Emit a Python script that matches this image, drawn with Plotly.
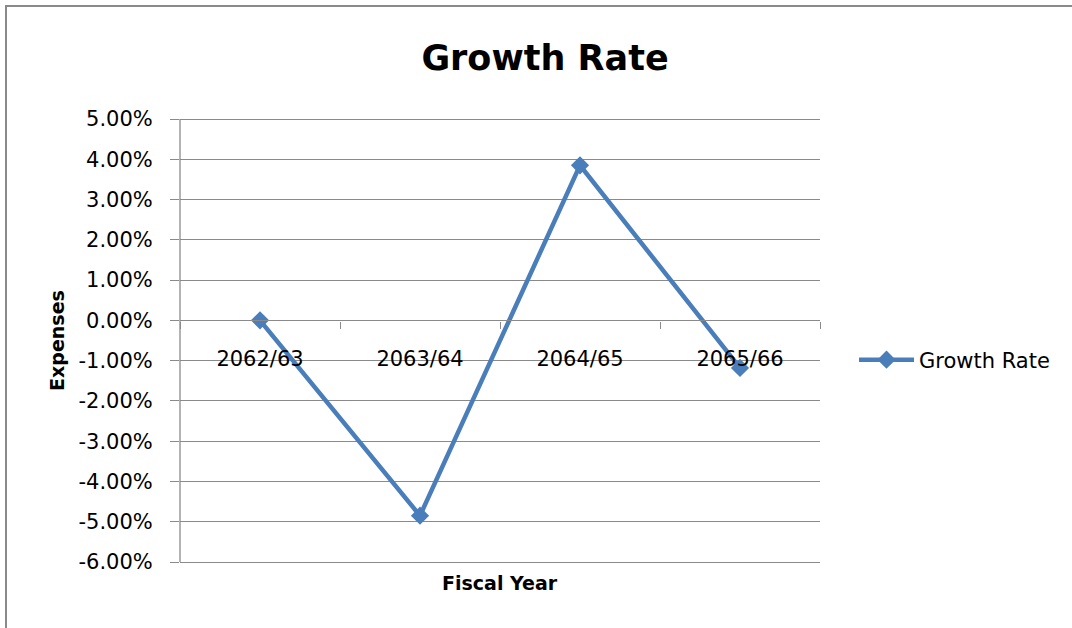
import plotly.graph_objects as go

categories = ["2062/63", "2063/64", "2064/65", "2065/66"]
growth_rate = [0.0, -0.0485, 0.0385, -0.0118]
series_name = "Growth Rate"
title_text = "Growth Rate"
x_title = "Fiscal Year"
y_title = "Expenses"
y_tick_vals = [0.05, 0.04, 0.03, 0.02, 0.01, 0.0, -0.01, -0.02, -0.03, -0.04, -0.05, -0.06]
y_tick_text = ["5.00%", "4.00%", "3.00%", "2.00%", "1.00%", "0.00%",
               "-1.00%", "-2.00%", "-3.00%", "-4.00%", "-5.00%", "-6.00%"]

FONT = "'DejaVu Sans', sans-serif"
GRID = "#8a8a8a"
BLUE = "#4a7ebb"

W, H = 1072, 628
EPS = 0.0005
PAD = 2  # px of padding outside the -6% .. 5% range
L, R, T, B = 180, 252, 119 - PAD, 66 - PAD
ph = H - T - B
pw = W - L - R
EPS = PAD * 0.11 / (ph - 2 * PAD)

fig = go.Figure()
fig.add_trace(go.Scatter(
    x=categories, y=growth_rate, name=series_name, mode="lines+markers",
    line=dict(color=BLUE, width=4.5),
    marker=dict(symbol="diamond", size=14, color=BLUE),
))

fig.update_layout(
    width=W, height=H,
    margin=dict(l=L, r=R, t=T, b=B),
    paper_bgcolor="white", plot_bgcolor="white",
    font=dict(family=FONT, size=21, color="black"),
    title=dict(text=f"<b>{title_text}</b>", x=545 / W, xanchor="center",
               y=1 - 58 / H, yanchor="middle", yref="container",
               font=dict(size=35, family=FONT, color="black")),
    showlegend=True,
    legend=dict(x=(854 - L) / pw, y=(H - B - 360) / ph, xanchor="left", yanchor="middle",
                itemwidth=55,
                font=dict(size=21, family=FONT), bgcolor="rgba(0,0,0,0)"),
    xaxis=dict(
        type="category", range=[-0.5, 3.5],
        anchor="free", position=(0.06 + EPS) / (0.11 + 2 * EPS),
        showline=True, linecolor=GRID, linewidth=1.3,
        ticks="outside", tickson="boundaries", ticklen=7, tickcolor=GRID, tickwidth=1.3,
        showgrid=False, ticklabelstandoff=19,
        tickfont=dict(size=21, family=FONT),
    ),
    yaxis=dict(
        range=[-0.06 - EPS, 0.05 + EPS], tickmode="array", tickvals=y_tick_vals, ticktext=y_tick_text,
        showline=False,
        ticks="outside", ticklen=9, tickcolor=GRID, tickwidth=1.3,
        showgrid=True, gridcolor=GRID, gridwidth=1.3, zeroline=False,
        ticklabelstandoff=13,
        tickfont=dict(size=21, family=FONT),
        title=dict(text=f"<b>{y_title}</b>", font=dict(size=19, family=FONT), standoff=8),
    ),
    annotations=[dict(text=f"<b>{x_title}</b>", xref="paper", yref="paper",
                      x=(500 - L) / pw, y=(H - B - 583) / ph, xanchor="center", yanchor="middle",
                      showarrow=False, font=dict(size=19, family=FONT))],
    shapes=[dict(type="rect", xref="paper", yref="paper",
                 x0=(6 - L) / pw, x1=(1200 - L) / pw,
                 y0=(H - B - 6) / ph, y1=(H - B - 700) / ph,
                 line=dict(color="#8a8a8a", width=2), layer="below"),
            dict(type="line", xref="paper", yref="y",
                 x0=0, x1=0, y0=-0.06, y1=0.05,
                 line=dict(color=GRID, width=1.3), layer="below")],
)

fig.write_html("out.html", config={"displayModeBar": False},
               post_script="document.body.style.margin='0';document.body.style.overflow='hidden';")
